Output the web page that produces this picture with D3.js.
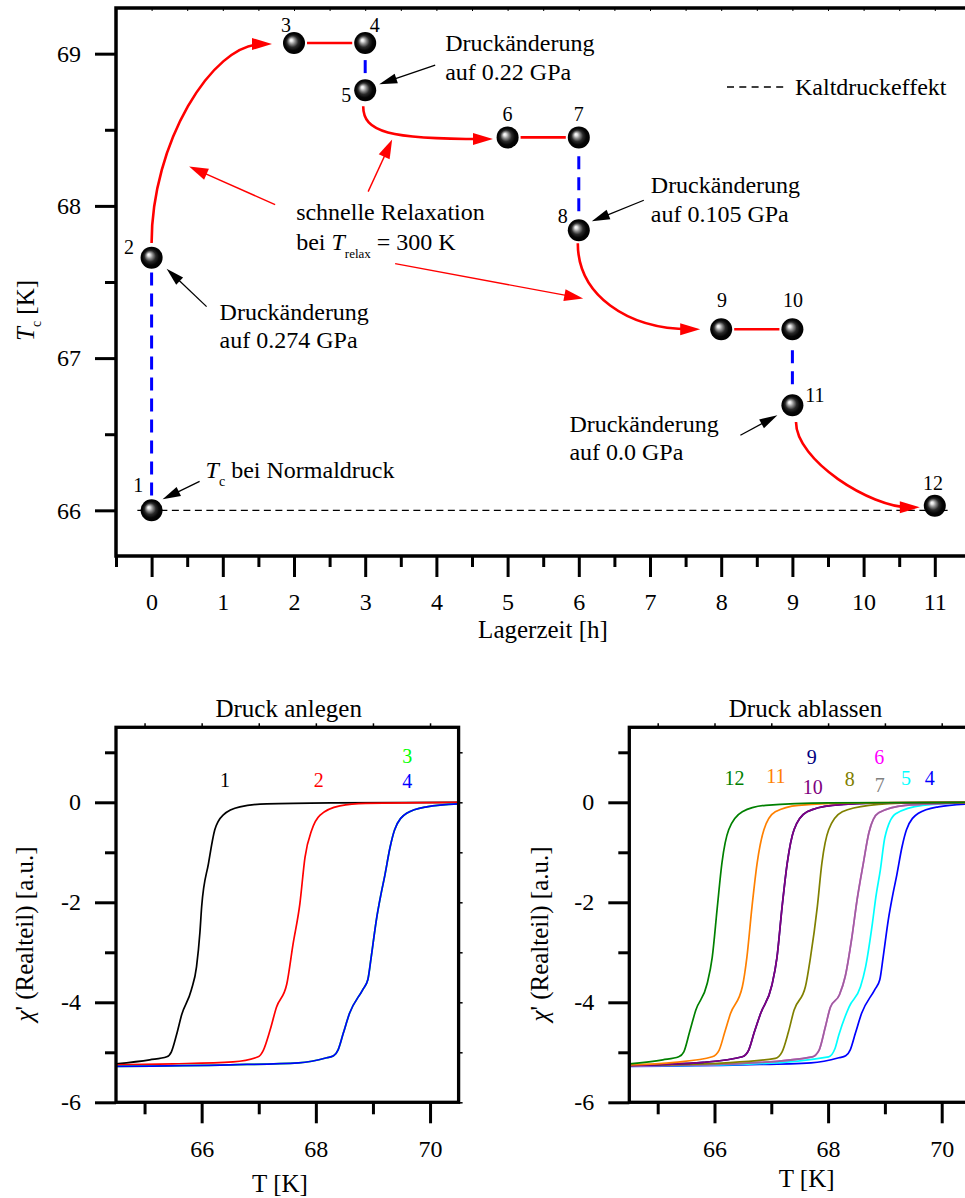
<!DOCTYPE html>
<html>
<head>
<meta charset="utf-8">
<script src="https://cdn.jsdelivr.net/npm/d3@7"></script>
<style>
  body { margin: 0; background: #fff; }
  svg { display: block; }
  svg text { font-family: "Liberation Serif", "Times New Roman", serif !important; }
</style>
</head>
<body>
<svg id="fig" width="965" height="1198"></svg>
<script>
// ---------- upper panel: Tc versus storage time ----------
const pointIds      = ["1","2","3","4","5","6","7","8","9","10","11","12"];
const storageHours  = [0, 0, 2, 3, 3, 5, 6, 6, 8, 9, 9, 11];
const tcValues      = [66.0, 67.66, 69.07, 69.07, 68.76, 68.45, 68.45, 67.84, 67.19, 67.19, 66.69, 66.03];
const hourTicks     = [0, 1, 2, 3, 4, 5, 6, 7, 8, 9, 10, 11];
const hourMinor     = [-0.5, 0.5, 1.5, 2.5, 3.5, 4.5, 5.5, 6.5, 7.5, 8.5, 9.5, 10.5, 11.5];
const tcTicks       = [66, 67, 68, 69];
const tcMinor       = [66.5, 67.5, 68.5];
// pressure changes (cold), storage at constant pressure, fast relaxation at 300 K
const pressureSteps = [[0, 1], [3, 4], [6, 7], [9, 10]];
const holdSteps     = [[2, 3], [5, 6], [8, 9]];
const relaxSteps    = [[1, 2], [4, 5], [7, 8], [10, 11]];
const pressureText  = ["auf 0.274 GPa", "auf 0.22 GPa", "auf 0.105 GPa", "auf 0.0 GPa"];
const coldLine      = { from: -0.2, to: 11.18 };

// ---------- lower panels: real part of ac susceptibility ----------
const tempTicks  = [66, 68, 70];
const tempMinor  = [65, 67, 69];
const chiTicks   = [-6, -4, -2, 0];
const chiMinor   = [-5, -3, -1, 1];

const chi1  = [[64.5,-5.23],[65.09,-5.15],[65.39,-5.09],[65.47,-4.99],[65.56,-4.65],[65.65,-4.25],[65.82,-3.75],[65.91,-3.29],[65.97,-2.6],[66.0,-2.09],[66.12,-1.22],[66.23,-0.55],[66.38,-0.25],[66.67,-0.09],[67.14,-0.03],[68.3,-0.01],[70.5,0]];
const chi2  = [[64.5,-5.25],[65.5,-5.23],[66.55,-5.19],[66.99,-5.09],[67.08,-4.96],[67.2,-4.55],[67.31,-4.10],[67.49,-3.64],[67.60,-2.84],[67.72,-2.03],[67.81,-1.10],[67.93,-0.55],[68.07,-0.26],[68.42,-0.07],[68.87,-0.02],[70.5,0]];
const chi3  = [[64.5,-5.28],[66.5,-5.25],[67.7,-5.21],[68.19,-5.11],[68.31,-5.07],[68.39,-4.95],[68.48,-4.62],[68.59,-4.22],[68.82,-3.75],[68.91,-3.55],[68.97,-3.09],[69.06,-2.35],[69.13,-1.9],[69.21,-1.45],[69.30,-0.9],[69.38,-0.55],[69.59,-0.22],[69.94,-0.09],[70.5,-0.03]];
const chi4  = [[64.5,-5.28],[66.5,-5.25],[67.7,-5.21],[68.19,-5.11],[68.31,-5.07],[68.39,-4.95],[68.48,-4.62],[68.59,-4.22],[68.82,-3.75],[68.91,-3.55],[68.97,-3.09],[69.06,-2.35],[69.13,-1.9],[69.21,-1.45],[69.30,-0.9],[69.38,-0.55],[69.59,-0.22],[69.94,-0.09],[70.5,-0.03]];
const chi5  = [[64.5,-5.27],[66.5,-5.24],[68.01,-5.09],[68.12,-4.93],[68.19,-4.65],[68.37,-4.09],[68.57,-3.69],[68.66,-3.29],[68.78,-2.42],[68.84,-1.9],[68.92,-1.35],[69.0,-0.7],[69.19,-0.23],[69.66,-0.06],[70.5,-0.01]];
const chi6  = [[64.5,-5.27],[66.5,-5.22],[67.72,-5.09],[67.84,-4.96],[67.95,-4.5],[68.04,-4.10],[68.20,-3.85],[68.30,-3.49],[68.42,-2.69],[68.51,-1.95],[68.62,-1.22],[68.72,-0.6],[68.89,-0.21],[69.36,-0.06],[70.5,-0.01]];
const chi7  = [[64.5,-5.27],[66.5,-5.22],[67.72,-5.09],[67.84,-4.96],[67.95,-4.5],[68.04,-4.10],[68.20,-3.85],[68.30,-3.49],[68.42,-2.69],[68.51,-1.95],[68.62,-1.22],[68.72,-0.6],[68.89,-0.21],[69.36,-0.06],[70.5,-0.01]];
const chi8  = [[64.5,-5.26],[66.2,-5.21],[67.07,-5.12],[67.19,-4.99],[67.3,-4.6],[67.40,-4.16],[67.60,-3.69],[67.69,-3.10],[67.81,-2.09],[67.89,-1.22],[68.01,-0.55],[68.25,-0.19],[68.72,-0.06],[69.5,-0.01],[70.5,0]];
const chi9  = [[64.5,-5.26],[65.8,-5.2],[66.49,-5.09],[66.60,-4.96],[66.7,-4.6],[66.81,-4.23],[67.01,-3.66],[67.10,-3.10],[67.19,-2.09],[67.28,-1.22],[67.40,-0.55],[67.63,-0.19],[68.07,-0.06],[69.0,-0.01],[70.5,0]];
const chi10 = [[64.5,-5.26],[65.8,-5.2],[66.49,-5.09],[66.60,-4.96],[66.7,-4.6],[66.81,-4.23],[67.01,-3.66],[67.10,-3.10],[67.19,-2.09],[67.28,-1.22],[67.40,-0.55],[67.63,-0.19],[68.07,-0.06],[69.0,-0.01],[70.5,0]];
const chi11 = [[64.5,-5.25],[65.3,-5.2],[65.96,-5.09],[66.08,-4.96],[66.18,-4.6],[66.28,-4.23],[66.49,-3.69],[66.57,-3.10],[66.66,-2.09],[66.75,-1.22],[66.87,-0.55],[67.07,-0.19],[67.48,-0.06],[68.5,-0.01],[70.5,0]];
const chi12 = [[64.5,-5.23],[65.09,-5.15],[65.37,-5.09],[65.46,-4.99],[65.56,-4.6],[65.67,-4.16],[65.87,-3.63],[65.96,-3.10],[66.05,-2.09],[66.13,-1.22],[66.25,-0.55],[66.49,-0.19],[66.90,-0.06],[68.0,-0.01],[70.5,0]];

// curve number labels (T, chi' placement)
const applyLabelPos   = [[66.41,0.31],[68.05,0.31],[69.60,0.79],[69.60,0.29]];
const releaseLabelPos = { "12":[66.35,0.35], "11":[67.08,0.39], "9":[67.71,0.77], "10":[67.73,0.17], "8":[68.38,0.33],
                          "6":[68.90,0.77], "7":[68.91,0.21], "5":[69.37,0.35], "4":[69.79,0.35] };

const colors = { "1":"#000000", "2":"#ff0000", "3":"#00ff00", "4":"#0000ff", "5":"#00ffff", "6":"#ff00ff",
                 "7":"#808080", "8":"#808000", "9":"#000080", "10":"#800080", "11":"#ff8000", "12":"#008000" };

const svg = d3.select("#fig");
const FONT = '"Liberation Serif", "Times New Roman", serif';

// ---------- defs ----------
const defs = svg.append("defs");
const grad = defs.append("radialGradient").attr("id", "ball")
  .attr("cx", 0.5).attr("cy", 0.5).attr("r", 0.5).attr("fx", 0.36).attr("fy", 0.36);
[[0, "#ffffff"], [0.12, "#e6e6e6"], [0.3, "#8c8c8c"], [0.52, "#2a2a2a"], [0.75, "#060606"], [1, "#000"]]
  .forEach(([o, c]) => grad.append("stop").attr("offset", o).attr("stop-color", c));

function arrowHead(g, tx, ty, ux, uy, len, wid, color) {
  const bx = tx - ux * len, by = ty - uy * len;
  const px = -uy * wid / 2, py = ux * wid / 2;
  g.append("path")
    .attr("d", `M${tx},${ty}L${bx + px},${by + py}L${bx - px},${by - py}Z`)
    .attr("fill", color);
}
function arrow(g, x1, y1, x2, y2, color, lw, len, wid) {
  const dx = x2 - x1, dy = y2 - y1, L = Math.hypot(dx, dy), ux = dx / L, uy = dy / L;
  g.append("line").attr("x1", x1).attr("y1", y1)
    .attr("x2", x2 - ux * len * 0.7).attr("y2", y2 - uy * len * 0.7)
    .attr("stroke", color).attr("stroke-width", lw);
  arrowHead(g, x2, y2, ux, uy, len, wid, color);
}
function styleAxis(g, size, width) {
  g.select(".domain").remove();
  g.attr("font-family", FONT).attr("font-size", size);
  g.selectAll(".tick line").attr("stroke", "#000").attr("stroke-width", width);
  g.selectAll(".tick text").attr("fill", "#000");
}

// ================= upper panel =================
const xH  = d3.scaleLinear().domain([-0.5, 11.5]).range([116, 970.4]);
const yTc = d3.scaleLinear().domain([65.7, 69.3]).range([556, 8]);
const up = svg.append("g").attr("font-family", FONT);
const R = 11;
const px = i => xH(storageHours[i]);
const py = i => yTc(tcValues[i]);

// cold-pressure reference level (Tc at normal pressure)
up.append("line")
  .attr("x1", xH(coldLine.from)).attr("x2", xH(coldLine.to))
  .attr("y1", yTc(tcValues[0])).attr("y2", yTc(tcValues[0]))
  .attr("stroke", "#000").attr("stroke-width", 1.3).attr("stroke-dasharray", "7,4.5");

// pressure changes: blue dashed, dashes centred between the two points
pressureSteps.forEach(([a, b]) => {
  const yA = py(a), yB = py(b);
  const y1 = Math.min(yA, yB) + R + 1, y2 = Math.max(yA, yB) - R - 1;
  const L = y2 - y1, period = 21, n = Math.max(1, Math.floor((L + 8) / period)), used = n * period - 8;
  const m = Math.max(0, (L - used) / 2);
  up.append("line").attr("x1", px(a)).attr("x2", px(a)).attr("y1", y1 + m).attr("y2", y2 - m)
    .attr("stroke", "#0000ff").attr("stroke-width", 3)
    .attr("stroke-dasharray", "13,8");
});

// storage at constant pressure: red solid
holdSteps.forEach(([a, b]) => {
  up.append("line").attr("x1", px(a) + R + 2).attr("x2", px(b) - R - 2)
    .attr("y1", py(a)).attr("y2", py(b))
    .attr("stroke", "#ff0000").attr("stroke-width", 2.6);
});

// fast relaxation: curved red arrows
const relaxShape = [
  { s: [0, -14.6], e: [-22, 1],    k1: 0.5,  k2: 0.5 },
  { s: [-2, 16],   e: [-14.6, 1.6], k1: 0.8,  k2: 0.8 },
  { s: [-1, 13],   e: [-21, 0],    k1: 0.6,  k2: 0.6 },
  { s: [3.6, 16.7], e: [-15, 1.6], k1: 0.45, k2: 0.4 }
];
relaxSteps.forEach(([a, b], k) => {
  const sh = relaxShape[k];
  const sx = px(a) + sh.s[0], sy = py(a) + sh.s[1];
  const ex = px(b) + sh.e[0], ey = py(b) + sh.e[1];
  const c1 = [sx, sy + sh.k1 * (ey - sy)];
  const c2 = [ex - sh.k2 * (ex - sx), ey];
  const p = d3.path();
  p.moveTo(sx, sy);
  p.bezierCurveTo(c1[0], c1[1], c2[0], c2[1], ex - 10, ey);
  up.append("path").attr("d", p.toString()).attr("fill", "none")
    .attr("stroke", "#ff0000").attr("stroke-width", 2.6);
  arrowHead(up, ex, ey, 1, 0, 20, 12, "#ff0000");
});

// measurement points
up.selectAll("circle.pt").data(pointIds).join("circle").attr("class", "pt")
  .attr("cx", (d, i) => px(i)).attr("cy", (d, i) => py(i)).attr("r", R)
  .attr("fill", "url(#ball)");

// point numbers
const idOffset = [[-13.3,-18.6],[-22.6,-3.6],[-8,-11.3],[9.5,-11.3],[-19,11.5],[0,-16.4],
                  [0,-16.4],[-16,-7.5],[0.8,-22.5],[0.6,-22.5],[22.6,-3],[-1.8,-15.7]];
up.selectAll("text.id").data(pointIds).join("text").attr("class", "id")
  .attr("x", (d, i) => px(i) + idOffset[i][0]).attr("y", (d, i) => py(i) + idOffset[i][1])
  .attr("text-anchor", "middle").attr("font-size", 20).text(d => d);

// pressure change notes (placed relative to the point they describe)
const noteLayout = [
  { dx: 68,   dy: [62, 90],      tail: [55, 49],   tip: [15, 11] },
  { dx: 80,   dy: [-39.5, -10],  tail: [70, -25],  tip: [14, -6] },
  { dx: 72,   dy: [-37, -8],     tail: [65, -30],  tip: [13, -9] },
  { dx: -223, dy: [27, 55],      tail: [-52, 30],  tip: [-15, 10] }
];
pressureSteps.forEach(([a, b], k) => {
  const L = noteLayout[k], x0 = px(b), y0 = py(b);
  const t = up.append("text").attr("font-size", 24);
  t.append("tspan").attr("x", x0 + L.dx).attr("y", y0 + L.dy[0]).text("Druckänderung");
  t.append("tspan").attr("x", x0 + L.dx).attr("y", y0 + L.dy[1]).text(pressureText[k]);
  arrow(up, x0 + L.tail[0], y0 + L.tail[1], x0 + L.tip[0], y0 + L.tip[1], "#000", 1.3, 18, 10);
});

// Tc at normal pressure
{
  const x0 = px(0), y0 = py(0);
  const t = up.append("text").attr("font-size", 24).attr("x", x0 + 54).attr("y", y0 - 32);
  t.append("tspan").attr("font-style", "italic").text("T");
  t.append("tspan").attr("font-size", 14).attr("dy", 8).text("c");
  t.append("tspan").attr("dy", -8).text(" bei Normaldruck");
  arrow(up, x0 + 48, y0 - 29, x0 + 11, y0 - 11, "#000", 1.3, 18, 10);
}

// relaxation note
{
  const x0 = xH(2.03), y0 = yTc(67.91);
  const t = up.append("text").attr("font-size", 24);
  t.append("tspan").attr("x", x0).attr("y", y0).text("schnelle Relaxation");
  const t2 = up.append("text").attr("font-size", 24).attr("x", x0).attr("y", y0 + 30);
  t2.append("tspan").text("bei ");
  t2.append("tspan").attr("font-style", "italic").text("T");
  t2.append("tspan").attr("font-size", 13).attr("dy", 8).text("relax");
  t2.append("tspan").attr("dy", -8).text(" = 300 K");
  [[[-21, -15], [-107, -53]], [[72, -28], [96, -80]], [[99, 44], [287, 79]]].forEach(([s, e]) =>
    arrow(up, x0 + s[0], y0 + s[1], x0 + e[0], y0 + e[1], "#ff0000", 1.4, 19, 12));
}

// legend
up.append("line").attr("x1", 727).attr("x2", 787).attr("y1", 87).attr("y2", 87)
  .attr("stroke", "#000").attr("stroke-width", 1.3).attr("stroke-dasharray", "7,5.3");
up.append("text").attr("x", 795).attr("y", 95).attr("font-size", 24).text("Kaltdruckeffekt");

// axes
up.append("g").attr("transform", "translate(0,556)")
  .call(d3.axisBottom(xH).tickValues(hourTicks).tickSize(21).tickPadding(16).tickFormat(d3.format("d")))
  .call(g => styleAxis(g, 24, 3));
up.append("g").attr("transform", "translate(0,556)")
  .call(d3.axisBottom(xH).tickValues(hourMinor).tickSize(11).tickFormat(""))
  .call(g => styleAxis(g, 24, 3));
up.append("g").attr("transform", "translate(0,8)")
  .call(d3.axisBottom(xH).tickValues(hourMinor.concat(hourTicks)).tickSize(3).tickFormat(""))
  .call(g => styleAxis(g, 24, 1));
up.append("g").attr("transform", "translate(116,0)")
  .call(d3.axisLeft(yTc).tickValues(tcTicks).tickSize(21).tickPadding(14).tickFormat(d3.format("d")))
  .call(g => styleAxis(g, 24, 3));
up.append("g").attr("transform", "translate(116,0)")
  .call(d3.axisLeft(yTc).tickValues(tcMinor).tickSize(11).tickFormat(""))
  .call(g => styleAxis(g, 24, 3));
up.append("rect").attr("x", 116).attr("y", 8).attr("width", 970.4 - 116).attr("height", 548)
  .attr("fill", "none").attr("stroke", "#000").attr("stroke-width", 3.5);

up.append("text").attr("x", 543).attr("y", 638).attr("text-anchor", "middle")
  .attr("font-size", 25).text("Lagerzeit [h]");
{
  const t = up.append("text").attr("transform", "translate(34,341) rotate(-90)").attr("font-size", 25);
  t.append("tspan").attr("font-style", "italic").text("T");
  t.append("tspan").attr("font-size", 14).attr("dy", 7).text("c");
  t.append("tspan").attr("dy", -7).text(" [K]");
}

// ================= lower panels =================
function chiPanel(cfg) {
  const x = d3.scaleLinear().domain([64.5, 70.5]).range([cfg.left, cfg.left + cfg.width]);
  const y = d3.scaleLinear().domain([-6, 1.5]).range([1102.3, 727.3]);
  const g = svg.append("g").attr("font-family", FONT);
  const clipId = "clip" + Math.round(cfg.left);
  defs.append("clipPath").attr("id", clipId).append("rect")
    .attr("x", x.range()[0]).attr("y", 727.3).attr("width", cfg.width).attr("height", 375);
  const line = d3.line().x(d => x(d[0])).y(d => y(d[1])).curve(d3.curveMonotoneX);
  const cg = g.append("g").attr("clip-path", `url(#${clipId})`);
  cfg.curves.forEach(c => {
    cg.append("path").attr("d", line(c.data)).attr("fill", "none")
      .attr("stroke", colors[c.id]).attr("stroke-width", 1.7)
      .attr("stroke-opacity", c.opacity || 1);
  });
  cfg.labels.forEach(([id, pos]) => {
    g.append("text").attr("x", x(pos[0])).attr("y", y(pos[1])).attr("text-anchor", "middle")
      .attr("font-size", 20).attr("fill", colors[id]).text(id);
  });
  const fmt = d => String(d);
  g.append("g").attr("transform", "translate(0,1102.3)")
    .call(d3.axisBottom(x).tickValues(tempTicks).tickSize(21).tickPadding(17).tickFormat(fmt))
    .call(a => styleAxis(a, 24, 3));
  g.append("g").attr("transform", "translate(0,1102.3)")
    .call(d3.axisBottom(x).tickValues(tempMinor).tickSize(12).tickFormat(""))
    .call(a => styleAxis(a, 24, 3));
  g.append("g").attr("transform", "translate(0,727.3)")
    .call(d3.axisTop(x).tickValues(tempTicks.concat(tempMinor)).tickSize(4).tickFormat(""))
    .call(a => styleAxis(a, 24, 1.5));
  g.append("g").attr("transform", `translate(${cfg.left},0)`)
    .call(d3.axisLeft(y).tickValues(chiTicks).tickSize(21).tickPadding(14).tickFormat(fmt))
    .call(a => styleAxis(a, 24, 3));
  g.append("g").attr("transform", `translate(${cfg.left},0)`)
    .call(d3.axisLeft(y).tickValues(chiMinor).tickSize(11).tickFormat(""))
    .call(a => styleAxis(a, 24, 3));
  g.append("g").attr("transform", `translate(${cfg.left + cfg.width},0)`)
    .call(d3.axisRight(y).tickValues(chiTicks.concat(chiMinor)).tickSize(4).tickFormat(""))
    .call(a => styleAxis(a, 24, 1.5));
  g.append("rect").attr("x", cfg.left).attr("y", 727.3).attr("width", cfg.width).attr("height", 375)
    .attr("fill", "none").attr("stroke", "#000").attr("stroke-width", 3.3);
  g.append("text").attr("x", cfg.titleX).attr("y", 716.7).attr("text-anchor", "middle")
    .attr("font-size", 25).text(cfg.title);
  g.append("text").attr("x", cfg.xTitleX).attr("y", cfg.xTitleY).attr("text-anchor", "middle")
    .attr("font-size", 25).text("T [K]");
  const yt = g.append("text").attr("transform", `translate(${cfg.yTitleX},934) rotate(-90)`)
    .attr("text-anchor", "middle").attr("font-size", 25);
  yt.append("tspan").attr("font-style", "italic").text("χ");
  yt.append("tspan").text("' (Realteil) [a.u.]");
}

chiPanel({
  left: 116, width: 342.6, title: "Druck anlegen", titleX: 288.7,
  xTitleX: 280, xTitleY: 1191.7, yTitleX: 33,
  curves: [{ id: "1", data: chi1 }, { id: "2", data: chi2 }, { id: "3", data: chi3 }, { id: "4", data: chi4 }],
  labels: [["1", applyLabelPos[0]], ["2", applyLabelPos[1]], ["3", applyLabelPos[2]], ["4", applyLabelPos[3]]]
});

chiPanel({
  left: 629.3, width: 340.8, title: "Druck ablassen", titleX: 805.5,
  xTitleX: 806.7, xTitleY: 1187, yTitleX: 548,
  curves: [{ id: "4", data: chi4 }, { id: "5", data: chi5 }, { id: "6", data: chi6 },
           { id: "7", data: chi7, opacity: 0.8 }, { id: "8", data: chi8 }, { id: "9", data: chi9 },
           { id: "10", data: chi10 }, { id: "11", data: chi11 }, { id: "12", data: chi12 }],
  labels: Object.entries(releaseLabelPos)
});
</script>
</body>
</html>
